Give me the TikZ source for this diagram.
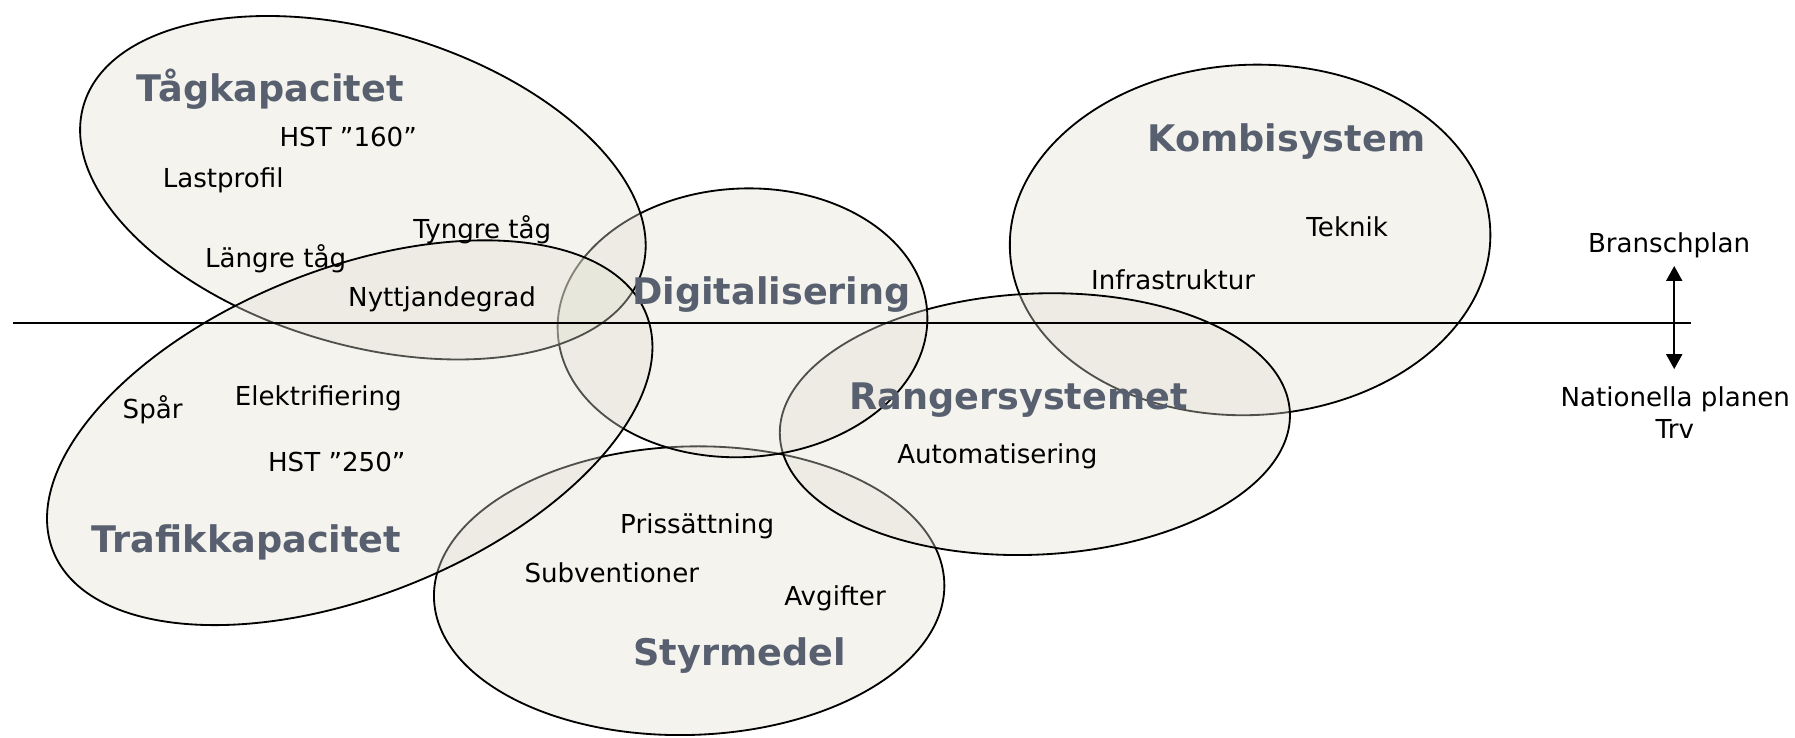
\documentclass[tikz,border=0pt]{standalone}
\usepackage{fontspec}
\setmainfont{DejaVu Sans}
\usetikzlibrary{arrows.meta}
\definecolor{ellfill}{RGB}{224,222,208}
\definecolor{titlec}{RGB}{88,96,112}
\tikzset{
  blob/.style={fill=ellfill, fill opacity=0.36, draw=black, line width=1.6pt},
  lbl/.style={anchor=base west, inner sep=0pt, font=\fontsize{22.8}{27}\selectfont},
  ttl/.style={anchor=base west, inner sep=0pt, text=titlec, font=\fontsize{32}{38}\selectfont\bfseries},
  axisline/.style={line width=1.5pt, draw=black},
  twoway/.style={line width=1.5pt, {Triangle[length=13pt,width=14pt]}-{Triangle[length=13pt,width=14pt]}},
}
\begin{document}
\begin{tikzpicture}[x=1pt,y=1pt]
\useasboundingbox (0,0) rectangle (1568,-644);
% ellipses, in drawing order
\path[blob, rotate around={2.6:(1092,-209.6)}] (1092,-209.6) ellipse [x radius=210, y radius=153];   % Kombisystem
\path[blob, rotate around={1.7:(602,-516)}] (602,-516) ellipse [x radius=223, y radius=126];        % Styrmedel
\path[blob, rotate around={2.65:(904,-370.5)}] (904,-370.5) ellipse [x radius=223, y radius=114];   % Rangersystemet
\path[blob, rotate around={3:(648.6,-282)}] (648.6,-282) ellipse [x radius=161.6, y radius=117.3]; % Digitalisering
\path[blob, rotate around={-16.5:(317,-164)}] (317,-164) ellipse [x radius=254.4, y radius=137.1];  % Tagkapacitet
\path[blob, rotate around={21.8:(305.5,-378)}] (305.5,-378) ellipse [x radius=279, y radius=142.5];% Trafikkapacitet
% horizontal divider
\coordinate (lineL) at (11,-282.3);
\coordinate (lineR) at (1477,-282.3);
\draw[axisline] (lineL) -- (lineR);
% vertical double arrow
\coordinate (arrTop) at (1462.5,-232.4);
\coordinate (arrBot) at (1462.5,-322.4);
\draw[twoway] (arrTop) -- (arrBot);
% titles
\node[ttl] (tag) at (119,-89) {Tågkapacitet};
\node[ttl] (dig) at (552,-265.6) {Digitalisering};
\node[ttl] (kom) at (1002,-132.5) {Kombisystem};
\node[ttl] (ran) at (741.6,-358) {Rangersystemet};
\node[ttl] (tra) at (80,-483) {Trafikkapacitet};
\node[ttl] (sty) at (553,-581.6) {Styrmedel};
% labels
\node[lbl] (hst160) at (244,-128) {HST ”160”};
\node[lbl] (last) at (142,-164) {Lastprofil};
\node[lbl] (tyng) at (361,-208) {Tyngre tåg};
\node[lbl] (lang) at (179,-234) {Längre tåg};
\node[lbl] (nytt) at (304,-268) {Nyttjandegrad};
\node[lbl] (tekn) at (1141,-206.7) {Teknik};
\node[lbl] (infr) at (953,-252.7) {Infrastruktur};
\node[lbl] (bran) at (1387,-220.7) {Branschplan};
\node[lbl] (nati) at (1363,-354.7) {Nationella planen};
\node[anchor=base, inner sep=0pt, font=\fontsize{22.8}{27}\selectfont] (trv) at (1463,-383) {Trv};
\node[lbl] (auto) at (783.6,-405.3) {Automatisering};
\node[lbl] (spar) at (107,-366) {Spår};
\node[lbl] (elek) at (205,-354) {Elektrifiering};
\node[lbl] (hst250) at (234,-412) {HST ”250”};
\node[lbl] (pris) at (541.6,-466) {Prissättning};
\node[lbl] (subv) at (458,-509) {Subventioner};
\node[lbl] (avgi) at (685,-528.5) {Avgifter};
\end{tikzpicture}
\end{document}
